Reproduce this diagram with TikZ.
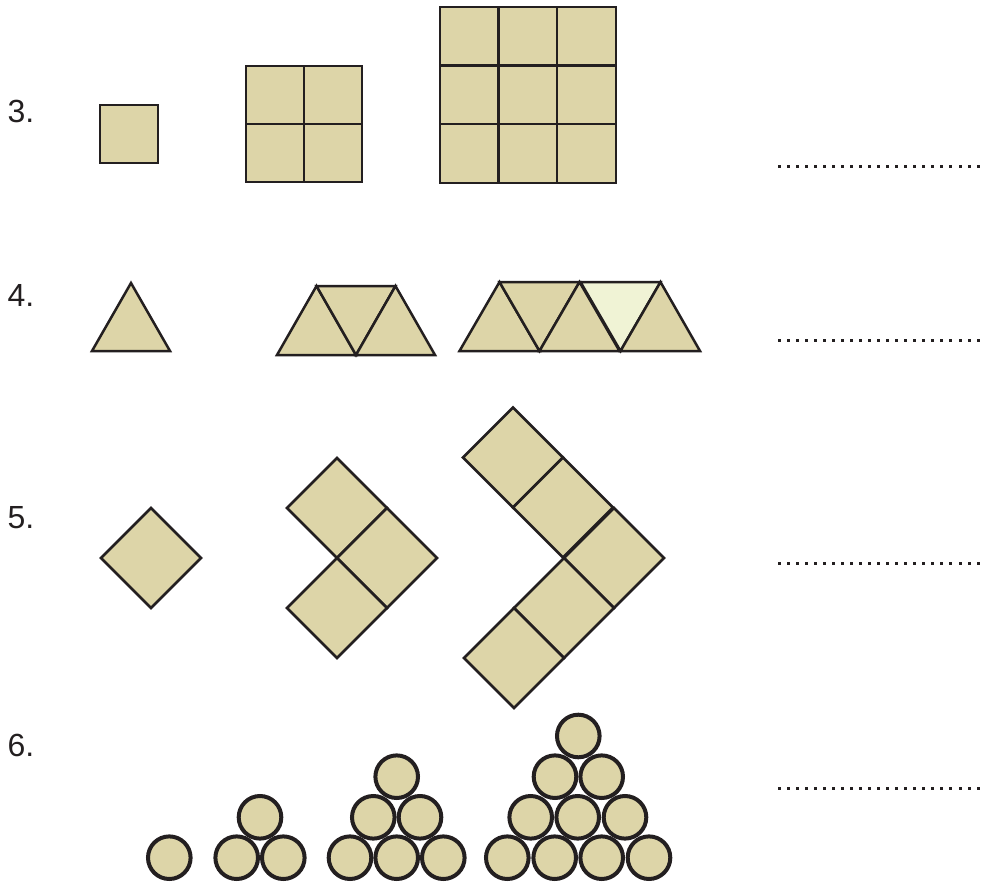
\documentclass[tikz,border=0pt]{standalone}
\usepackage{fontspec}
\setmainfont{Liberation Sans}
\definecolor{tan}{RGB}{221,213,168}
\definecolor{pale}{RGB}{240,243,213}
\definecolor{ink}{RGB}{35,31,32}
\begin{document}
\begin{tikzpicture}[x=1pt,y=-1pt,
  tile/.style={fill=tan,draw=ink,line width=2.5pt,line join=miter},
  paletile/.style={fill=pale,draw=ink,line width=2.5pt,line join=miter},
  coin/.style={fill=tan,draw=ink,line width=4pt},
  lbl/.style={anchor=base west,inner sep=0pt,font=\fontsize{32}{36}\selectfont,text=ink}]
\useasboundingbox (0,0) rectangle (986,886);
% labels
\node[lbl] (l3) at (7.5,122) {3.};
\node[lbl] (l4) at (7.5,306) {4.};
\node[lbl] (l5) at (7.5,528) {5.};
\node[lbl] (l6) at (7.5,756) {6.};
% row 3 squares
\draw[tile] (100,105) rectangle +(58,58);
\foreach \i in {0,1} \foreach \j in {0,1}
  \draw[tile] (246+58*\i,66+58*\j) rectangle +(58,58);
\foreach \i in {0,1,2} \foreach \j in {0,1,2}
  \draw[tile] (440+58.6*\i,7+58.6*\j) rectangle +(58.6,58.6);
% row 4 triangles
\draw[tile] (92,351) -- (170,351) -- (131,283) -- cycle;
\draw[tile] (277,355) -- (356,355) -- (316.5,286) -- cycle;
\draw[tile] (316.5,286) -- (395.5,286) -- (356,355) -- cycle;
\draw[tile] (356,355) -- (435,355) -- (395.5,286) -- cycle;
\draw[tile] (459.5,351) -- (539.5,351) -- (499.5,282) -- cycle;
\draw[tile] (499.5,282) -- (579.5,282) -- (539.5,351) -- cycle;
\draw[tile] (539.5,351) -- (619.5,351) -- (579.5,282) -- cycle;
\draw[paletile] (580.5,282) -- (660.5,282) -- (620.5,351) -- cycle;
\draw[tile] (620.5,351) -- (700,351) -- (660.5,282) -- cycle;
% row 5 diamonds
\foreach \cx/\cy in {151/558, 337/508, 387/558, 337/608, 513/457.5, 563/507.5, 614/558, 564/608, 514/658}
  \draw[tile] (\cx,\cy-50) -- (\cx+50,\cy) -- (\cx,\cy+50) -- (\cx-50,\cy) -- cycle;
% row 6 circles
\foreach \cx/\cy in {169.3/857.7,
  236.7/857.7, 283.3/857.7, 260/817.3,
  350/857.7, 396.7/857.7, 443.3/857.7, 373.3/817.3, 420/817.3, 396.7/776.7,
  507.3/857.7, 554.7/857.7, 601.7/857.7, 649/857.7,
  530.7/817.3, 577.7/817.3, 625/817.3,
  555/776.7, 601.7/776.7, 578.3/736}
  \draw[coin] (\cx,\cy) circle[radius=21.3];
% dotted answer lines
\foreach \y in {166,340,563,788} \foreach \k in {0,...,22}
  \fill[ink] (779+9.05*\k-1.5,\y-1.5) rectangle +(3,3);
\end{tikzpicture}
\end{document}
